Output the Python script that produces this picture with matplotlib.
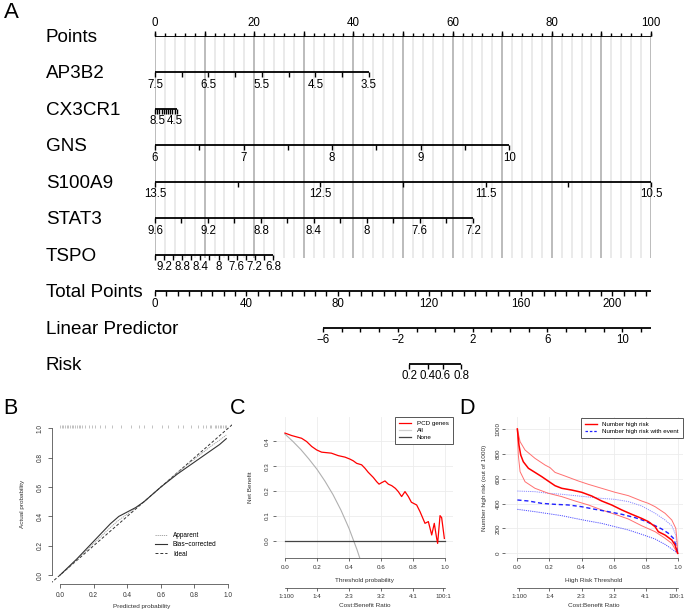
import numpy as np
import matplotlib.pyplot as plt
from matplotlib.lines import Line2D

plt.rcParams['font.family'] = ['Liberation Sans', 'DejaVu Sans']

W, H = 685, 612

# ---------------- A: nomogram ----------------
row_labels = ["Points", "AP3B2", "CX3CR1", "GNS", "S100A9", "STAT3", "TSPO",
              "Total Points", "Linear Predictor", "Risk"]

var_start = [7.5, 9.0, 6.0, 13.5, 9.6, 9.4]
var_end = [3.5, 4.0, 10.0, 10.5, 7.2, 6.8]
var_points = [43.1, 4.4, 71.4, 100.0, 64.1, 23.8]
var_step = [0.5, 0.5, 0.5, 0.5, 0.2, 0.2]
var_ticklabels = [
    [7.5, 6.5, 5.5, 4.5, 3.5],
    [8.5, 4.5],
    [6, 7, 8, 9, 10],
    [13.5, 12.5, 11.5, 10.5],
    [9.6, 9.2, 8.8, 8.4, 8, 7.6, 7.2],
    [9.2, 8.8, 8.4, 8, 7.6, 7.2, 6.8],
]
points_labels = [0, 20, 40, 60, 80, 100]
total_max = 217          # total points at the right end of the scale
total_step = 5
total_labels = [0, 40, 80, 120, 160, 200]
lp_range = [-6, 11.54]
lp_total = [73.5, 217]   # total points at both ends of the linear predictor
lp_labels = [-6, -2, 2, 6, 10]
risk_labels = [0.2, 0.4, 0.6, 0.8]

# ---------------- B: calibration ----------------
cal_x = [0.0, 0.05, 0.1, 0.15, 0.2, 0.25, 0.3, 0.35, 0.4, 0.45, 0.5, 0.55,
         0.6, 0.65, 0.7, 0.75, 0.8, 0.85, 0.9, 0.95, 0.99]
cal_apparent = [0.0, 0.05, 0.105, 0.16, 0.215, 0.27, 0.325, 0.375, 0.415, 0.455,
                0.5, 0.55, 0.6, 0.65, 0.7, 0.745, 0.79, 0.835, 0.88, 0.92, 0.955]
cal_bias = [0.0, 0.055, 0.11, 0.17, 0.23, 0.29, 0.35, 0.4, 0.43, 0.46, 0.5,
            0.55, 0.6, 0.645, 0.69, 0.73, 0.77, 0.81, 0.85, 0.89, 0.93]
rug_x = [0.0, 0.01, 0.02, 0.03, 0.04, 0.05, 0.06, 0.07, 0.08, 0.09, 0.1, 0.11,
         0.12, 0.13, 0.15, 0.17, 0.19, 0.21, 0.24, 0.27, 0.31, 0.36, 0.42,
         0.47, 0.5, 0.55, 0.61, 0.64, 0.7, 0.73, 0.78, 0.82, 0.85, 0.87, 0.89,
         0.9, 0.92, 0.93, 0.94, 0.95, 0.96, 0.97, 0.98, 0.99]

# ---------------- C: decision curve ----------------
pcd_t = [0, 0.042, 0.104, 0.135, 0.167, 0.198, 0.229, 0.29, 0.333, 0.375, 0.406,
         0.427, 0.448, 0.479, 0.5, 0.52, 0.552, 0.573, 0.588, 0.604, 0.625, 0.646,
         0.667, 0.69, 0.708, 0.729, 0.75, 0.771, 0.79, 0.823, 0.844, 0.875, 0.896,
         0.917, 0.933, 0.948, 0.954, 0.969, 0.979, 0.996]
pcd_nb = [0.434, 0.424, 0.413, 0.40, 0.38, 0.366, 0.357, 0.353, 0.343, 0.337, 0.329,
          0.322, 0.312, 0.306, 0.292, 0.276, 0.255, 0.238, 0.228, 0.234, 0.241, 0.228,
          0.222, 0.211, 0.198, 0.178, 0.198, 0.178, 0.155, 0.144, 0.117, 0.070, 0.077,
          0.023, 0.070, 0.009, -0.011, 0.101, 0.093, 0.009]
all_t = [0, 0.05, 0.1, 0.15, 0.2, 0.25, 0.3, 0.35, 0.4, 0.45, 0.47]
all_nb = [0.43, 0.40, 0.367, 0.329, 0.288, 0.24, 0.186, 0.123, 0.05, -0.036, -0.075]
none_t = [0, 1]
none_nb = [0, 0]

# ---------------- D: clinical impact ----------------
hr_t = [0, 0.010, 0.021, 0.037, 0.069, 0.110, 0.152, 0.204, 0.235, 0.277, 0.339,
        0.401, 0.464, 0.526, 0.588, 0.651, 0.713, 0.775, 0.817, 0.859, 0.879, 0.921,
        0.963, 0.983, 0.996, 1.0]
hr_mid = [1000, 871, 791, 737, 684, 651, 617, 571, 544, 523, 509, 491, 461, 421,
          389, 349, 314, 281, 255, 214, 174, 147, 107, 67, 13, 0]
hr_up_t = [0, 0.017, 0.048, 0.110, 0.173, 0.204, 0.235, 0.297, 0.380, 0.443, 0.526,
           0.609, 0.692, 0.775, 0.817, 0.859, 0.921, 0.963, 0.988, 0.996, 1.0]
hr_up = [1000, 898, 831, 764, 710, 689, 651, 622, 582, 555, 523, 491, 464, 421,
         402, 375, 322, 268, 201, 94, 0]
hr_lo_t = [0, 0.006, 0.017, 0.048, 0.110, 0.193, 0.277, 0.360, 0.443, 0.526, 0.609,
           0.692, 0.775, 0.859, 0.921, 0.963, 0.983, 1.0]
hr_lo = [1000, 791, 657, 576, 523, 483, 456, 421, 389, 349, 314, 276, 222, 174,
         121, 80, 35, 0]
ev_t = [0, 0.069, 0.152, 0.235, 0.318, 0.401, 0.484, 0.568, 0.651, 0.734, 0.796,
        0.859, 0.900, 0.942, 0.973, 0.988, 1.0]
ev_mid = [429, 421, 402, 394, 389, 375, 354, 335, 314, 287, 260, 222, 196, 161,
          121, 67, 0]
ev_up_t = [0, 0.110, 0.193, 0.277, 0.360, 0.443, 0.526, 0.609, 0.692, 0.775, 0.859,
           0.921, 0.963, 0.988, 1.0]
ev_up = [501, 496, 483, 475, 464, 453, 442, 434, 416, 381, 322, 268, 222, 147, 0]
ev_lo_t = [0, 0.110, 0.193, 0.277, 0.360, 0.443, 0.526, 0.609, 0.692, 0.775, 0.859,
           0.921, 0.963, 1.0]
ev_lo = [354, 335, 319, 303, 281, 260, 241, 214, 188, 153, 115, 72, 35, 0]

cb_ticks = [0.01, 0.2, 0.4, 0.6, 0.8, 0.99]
cb_labels = ["1:100", "1:4", "2:3", "3:2", "4:1", "100:1"]


def add_ax(fig, l, t, r, b):
    return fig.add_axes([l / W, 1 - b / H, (r - l) / W, (b - t) / H])


fig = plt.figure(figsize=(W / 100, H / 100), dpi=100)

# ---- nomogram ----
ax = add_ax(fig, 155, 36, 651, 364)
ax.set_xlim(0, 100)
ax.set_ylim(9, 0)
ax.axis('off')

TL = 0.135  # tick length in row units
LW = 1.3
fs_lab = 13.6
fs_tick = 8.3

# grid
ax.vlines(np.arange(0, 101, 2), 0, 6.1, color='#e6e6e6', lw=1.2, zorder=0)
ax.vlines(np.arange(0, 101, 10), 0, 6.1, color='#b4b4b4', lw=1.2, zorder=0)

for i, name in enumerate(row_labels):
    ax.text(-22.0, i + 0.04, name, ha='left', va='center', fontsize=fs_lab, clip_on=False)


def scale_row(row, p0, p1, tick_p, lab_p, lab_txt):
    ax.plot([p0, p1], [row, row], color='black', lw=LW, solid_capstyle='butt',
            clip_on=False, zorder=3)
    ax.vlines(tick_p, row, row + TL, color='black', lw=1.0, clip_on=False, zorder=3)
    for p, s in zip(lab_p, lab_txt):
        ax.text(p, row + 0.34, s, ha='center', va='center', fontsize=fs_tick)


# points axis: ticks upward, labels above
ax.plot([0, 100], [0, 0], color='black', lw=LW, solid_capstyle='butt', zorder=3)
ax.vlines(np.arange(0, 101, 2), 0, -0.08, color='black', lw=1.0, clip_on=False, zorder=3)
ax.vlines(np.arange(0, 101, 10), 0, -0.15, color='black', lw=1.0, clip_on=False, zorder=3)
for v in points_labels:
    ax.text(v, -0.35, str(v), ha='center', va='center', fontsize=fs_tick)

# predictor axes
for k in range(len(var_start)):
    a, b, pm, st = var_start[k], var_end[k], var_points[k], var_step[k]
    n = int(round(abs(b - a) / st))
    tv = np.linspace(a, b, n + 1)
    to_p = lambda v: (np.asarray(v, float) - a) / (b - a) * pm
    scale_row(k + 1, 0, pm, to_p(tv), to_p(var_ticklabels[k]),
              ['%g' % v for v in var_ticklabels[k]])

# total points
tp_scale = 100.0 / total_max
scale_row(7, 0, total_max * tp_scale,
          np.arange(0, total_max + 1, total_step) * tp_scale,
          np.array(total_labels) * tp_scale, [str(v) for v in total_labels])


def lp_to_p(lp):
    lp = np.asarray(lp, float)
    tp = lp_total[0] + (lp - lp_range[0]) / (lp_range[1] - lp_range[0]) * (lp_total[1] - lp_total[0])
    return tp * tp_scale


lp_ticks = np.arange(lp_range[0], lp_range[1], 1)
scale_row(8, lp_to_p(lp_range[0]), lp_to_p(lp_range[1]), lp_to_p(lp_ticks),
          lp_to_p(lp_labels), ['\u2212%g' % -v if v < 0 else '%g' % v for v in lp_labels])

risk_arr = np.array(risk_labels)
risk_p = lp_to_p(np.log(risk_arr / (1 - risk_arr)))
scale_row(9, risk_p[0], risk_p[-1], risk_p, risk_p, ['%g' % v for v in risk_labels])

# panel letters
fig.text(11 / W, 1 - 12 / H, "A", fontsize=16, ha='center', va='center')
fig.text(10 / W, 1 - 408 / H, "B", fontsize=15.5, ha='center', va='center')
fig.text(238 / W, 1 - 408 / H, "C", fontsize=15.5, ha='center', va='center')
fig.text(467 / W, 1 - 408 / H, "D", fontsize=15.5, ha='center', va='center')

fs_s = 4.7
spine_c = '#333333'

# ---- B ----
axb = add_ax(fig, 52, 424, 232, 584)
axb.set_xlim(-0.048, 1.024)
axb.set_ylim(-0.061, 1.03)
for s in ['top', 'right']:
    axb.spines[s].set_visible(False)
for s in ['left', 'bottom']:
    axb.spines[s].set_bounds(0, 1)
    axb.spines[s].set_linewidth(0.5)
    axb.spines[s].set_color(spine_c)
ticks = [0, 0.2, 0.4, 0.6, 0.8, 1.0]
axb.set_xticks(ticks, ['%.1f' % v for v in ticks])
axb.set_yticks(ticks, ['%.1f' % v for v in ticks])
axb.tick_params(length=3, width=0.5, labelsize=fs_s, pad=3, colors=spine_c)
for lb in axb.get_yticklabels():
    lb.set_rotation(90)
    lb.set_va('center')
axb.vlines(rug_x, 1.0, 1.022, color='#aaaaaa', lw=0.5)
axb.plot([-0.1, 1.1], [-0.1, 1.1], color='#333333', lw=0.7, ls=(0, (3, 2)))
axb.plot(cal_x, cal_apparent, color='#999999', lw=0.6, ls=(0, (1.5, 1)))
axb.plot(cal_x, cal_bias, color='#333333', lw=0.8)
hb = [Line2D([], [], color='#999999', lw=0.6, ls=(0, (1.5, 1))),
      Line2D([], [], color='#333333', lw=0.8),
      Line2D([], [], color='#333333', lw=0.7, ls=(0, (3, 2)))]
axb.legend(hb, ["Apparent", "Bias\u2212corrected", "Ideal"], loc='upper left',
           bbox_to_anchor=(0.572, 0.325), frameon=False, fontsize=fs_s,
           handlelength=1.85, handletextpad=0.9, labelspacing=0.35,
           borderpad=0, borderaxespad=0)
axb.set_xlabel("Predicted probability", fontsize=4.6, color=spine_c)
axb.set_ylabel("Actual probability", fontsize=4.6, color=spine_c)
axb.xaxis.set_label_coords(0.5, -0.128)
axb.yaxis.set_label_coords(-0.15, 0.5)


def dca_axes(axx, ylabel, xlabel):
    for s in ['top', 'right', 'left']:
        axx.spines[s].set_visible(False)
    axx.spines['bottom'].set_bounds(0, 1)
    axx.spines['bottom'].set_linewidth(0.5)
    axx.spines['bottom'].set_color(spine_c)
    xt = [0, 0.2, 0.4, 0.6, 0.8, 1.0]
    axx.set_xticks(xt, ['%.1f' % v for v in xt])
    axx.tick_params(length=2, width=0.5, labelsize=4.5, colors=spine_c)
    axx.tick_params(axis='x', pad=2.5)
    for lb in axx.get_yticklabels():
        lb.set_rotation(90)
        lb.set_va('center')
    axx.grid(color='#ececec', lw=0.6)
    axx.set_axisbelow(True)
    axx.set_xlabel(xlabel, fontsize=4.6, color=spine_c)
    axx.xaxis.set_label_coords(0.5, -0.137)
    axx.set_ylabel(ylabel, fontsize=4.6, color=spine_c)
    sec = axx.secondary_xaxis(-0.2077)
    sec.set_xticks(cb_ticks, cb_labels)
    sec.spines['bottom'].set_bounds(0, 1)
    sec.spines['bottom'].set_linewidth(0.5)
    sec.spines['bottom'].set_color(spine_c)
    sec.tick_params(length=2, width=0.5, labelsize=4.5, pad=2.5, colors=spine_c)
    axx.text(0.5, -0.335, "Cost:Benefit Ratio", transform=axx.transAxes,
             ha='center', va='center', fontsize=4.6, color=spine_c)


# ---- C ----
axc = add_ax(fig, 276, 416.7, 453, 558.3)
axc.set_xlim(-0.056, 1.05)
axc.set_ylim(-0.071, 0.50)
axc.set_yticks([0, 0.1, 0.2, 0.3, 0.4], ['0.0', '0.1', '0.2', '0.3', '0.4'])
axc.tick_params(axis='y', pad=2.7)
dca_axes(axc, "Net Benefit", "Threshold probability")
axc.yaxis.set_label_coords(-0.128, 0.5)
axc.plot(all_t, all_nb, color='#b0b0b0', lw=0.8)
axc.plot(none_t, none_nb, color='#444444', lw=0.9)
axc.plot(pcd_t, pcd_nb, color='#ff0000', lw=0.9)
hc = [Line2D([], [], color='#ff0000', lw=0.9),
      Line2D([], [], color='#d0d0d0', lw=0.9),
      Line2D([], [], color='#444444', lw=0.9)]
lg = axc.legend(hc, ["PCD genes", "All", "None"], loc='upper right',
                bbox_to_anchor=(1, 1), borderaxespad=0, fontsize=4.5,
                fancybox=False, edgecolor='#555555', framealpha=1,
                handlelength=1.9, handletextpad=0.9, labelspacing=0.2,
                borderpad=0.7)
lg.get_frame().set_linewidth(0.7)

# ---- D ----
axd = add_ax(fig, 505, 416.7, 682.7, 558.3)
axd.set_xlim(-0.077, 1.031)
axd.set_ylim(-40, 1099)
axd.set_yticks([0, 200, 400, 600, 800, 1000])
axd.tick_params(axis='y', pad=1.2)
dca_axes(axd, "Number high risk (out of 1000)", "High Risk Threshold")
axd.yaxis.set_label_coords(-0.103, 0.5)
axd.plot(ev_up_t, ev_up, color='#8c8cff', lw=0.7, ls=(0, (1.2, 1)))
axd.plot(ev_lo_t, ev_lo, color='#5050ff', lw=0.7, ls=(0, (1.2, 1)))
axd.plot(hr_up_t, hr_up, color='#ff7070', lw=0.7)
axd.plot(hr_lo_t, hr_lo, color='#ff7070', lw=0.7)
axd.plot(ev_t, ev_mid, color='#2020ff', lw=1.0, ls=(0, (3, 2)))
axd.plot(hr_t, hr_mid, color='#ff0000', lw=1.1)
hd = [Line2D([], [], color='#ff0000', lw=1.0),
      Line2D([], [], color='#2020ff', lw=0.9, ls=(0, (2, 1.5)))]
lg = axd.legend(hd, ["Number high risk", "Number high risk with event"],
                loc='upper right', bbox_to_anchor=(1, 0.99), borderaxespad=0,
                fontsize=4.5, fancybox=False, edgecolor='#555555', framealpha=1,
                handlelength=1.9, handletextpad=0.9, labelspacing=0.25,
                borderpad=0.6)
lg.get_frame().set_linewidth(0.7)

fig.savefig('out.png', dpi=100)
